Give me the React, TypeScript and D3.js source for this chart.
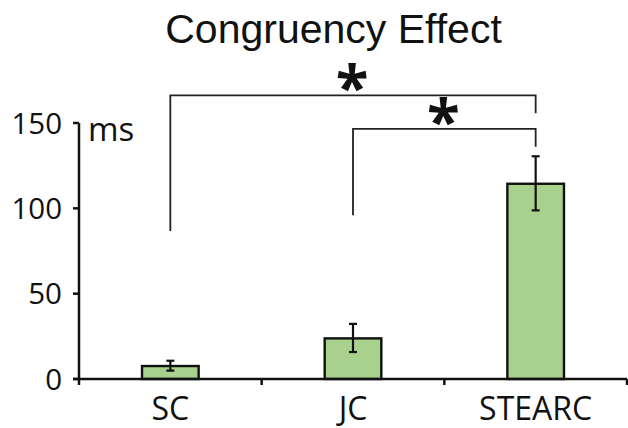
import React, { useEffect, useRef } from "react";
import * as d3 from "d3";

// data
const categories = ["SC", "JC", "STEARC"];
const means = [7.6, 23.8, 114.4];
const errLow = [4.9, 15.8, 98.8];
const errHigh = [10.7, 32.3, 130.5];
const yTicks = [0, 50, 100, 150];

// significance brackets: from/to categories, bar height, leg ends (in ms)
const bracketFrom = ["SC", "JC"];
const bracketTo = ["STEARC", "STEARC"];
const bracketLevel = [166.2, 146.5];
const legFromEnd = [86.7, 96];
const legToEnd = [155.7, 136.1];

const W = 628;
const H = 428;

const App = () => {
  const svgRef = useRef<SVGSVGElement>(null);

  useEffect(() => {
    const svg = d3.select(svgRef.current);
    svg.selectAll("*").remove();

    const left = 79;
    const right = 627;

    const x = d3.scaleBand().domain(categories).range([left, right]).padding(0);
    const y = d3.scaleLinear().domain([0, 150]).range([379, 123]);
    const barW = x.bandwidth() * 0.31;
    const cx = (c: string) => (x(c) as number) + x.bandwidth() / 2;

    // title
    svg
      .append("text")
      .attr("x", 333.5)
      .attr("y", 43)
      .attr("text-anchor", "middle")
      .attr("font-family", "'Liberation Sans', Arial, sans-serif")
      .attr("font-size", 41)
      .attr("fill", "#111")
      .text("Congruency Effect");

    // bars
    svg
      .append("g")
      .selectAll("rect")
      .data(categories)
      .join("rect")
      .attr("x", (d) => cx(d) - barW / 2)
      .attr("y", (d, i) => y(means[i]))
      .attr("width", barW)
      .attr("height", (d, i) => y(0) - y(means[i]))
      .attr("fill", "#a9d18e")
      .attr("stroke", "#111")
      .attr("stroke-width", 2.4);

    // error bars
    const eb = svg.append("g").attr("stroke", "#111").attr("stroke-width", 2.2);
    categories.forEach((c, i) => {
      const px = cx(c);
      eb.append("line").attr("x1", px).attr("x2", px).attr("y1", y(errLow[i])).attr("y2", y(errHigh[i]));
      [errLow[i], errHigh[i]].forEach((v) => {
        eb.append("line").attr("x1", px - 4).attr("x2", px + 4).attr("y1", y(v)).attr("y2", y(v));
      });
    });

    // axes
    const ax = svg.append("g").attr("stroke", "#111").attr("stroke-width", 2.5);
    ax.append("line").attr("x1", left).attr("x2", left).attr("y1", y(150)).attr("y2", y(0) + 6);
    ax.append("line").attr("x1", left - 6).attr("x2", right).attr("y1", y(0)).attr("y2", y(0));
    yTicks.forEach((t) => {
      ax.append("line").attr("x1", left - 6).attr("x2", left).attr("y1", y(t)).attr("y2", y(t));
    });
    categories.forEach((c) => {
      const bx = (x(c) as number) + x.bandwidth();
      ax.append("line").attr("x1", bx).attr("x2", bx).attr("y1", y(0)).attr("y2", y(0) + 6);
    });

    const labelFont = "'Open Sans', 'Noto Sans', sans-serif";
    svg
      .append("g")
      .selectAll("text")
      .data(yTicks)
      .join("text")
      .attr("x", 62)
      .attr("y", (d) => y(d) + 10.5)
      .attr("text-anchor", "end")
      .attr("font-family", labelFont)
      .attr("font-size", 29.5)
      .attr("fill", "#111")
      .text((d) => d);

    svg
      .append("text")
      .attr("x", 88)
      .attr("y", 141)
      .attr("font-family", labelFont)
      .attr("font-size", 33)
      .attr("fill", "#111")
      .text("ms");

    svg
      .append("g")
      .selectAll("text")
      .data(categories)
      .join("text")
      .attr("x", (d) => cx(d))
      .attr("y", 420)
      .attr("text-anchor", "middle")
      .attr("font-family", labelFont)
      .attr("font-size", 32)
      .attr("fill", "#111")
      .text((d) => d);

    // significance brackets
    const br = svg.append("g");
    bracketFrom.forEach((f, i) => {
      const x1 = cx(f);
      const x2 = cx(bracketTo[i]);
      const yl = y(bracketLevel[i]);
      br.append("path")
        .attr("d", `M${x1},${y(legFromEnd[i])}V${yl}H${x2}V${y(legToEnd[i])}`)
        .attr("fill", "none")
        .attr("stroke", "#222")
        .attr("stroke-width", 1.8);
      br.append("text")
        .attr("x", (x1 + x2) / 2 - 1)
        .attr("y", yl + 14)
        .attr("text-anchor", "middle")
        .attr("font-family", labelFont)
        .attr("font-weight", "bold")
        .attr("font-size", 60)
        .attr("fill", "#111")
        .text("*");
    });
  }, []);

  return (
    <svg
      ref={svgRef}
      width={W}
      height={H}
      style={{ position: "absolute", left: 0, top: 0, background: "#fff" }}
    />
  );
};

export default App;
